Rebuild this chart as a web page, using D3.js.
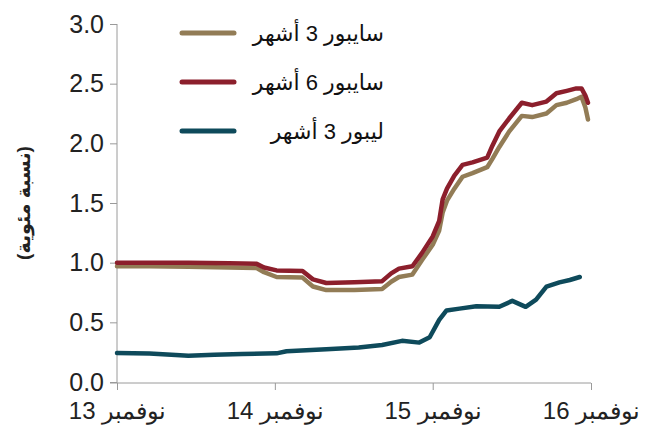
<!DOCTYPE html>
<html>
<head>
<meta charset="utf-8">
<script src="https://cdn.jsdelivr.net/npm/d3@7"></script>
<style>
  html, body { margin: 0; padding: 0; background: #fff; }
  svg { display: block; font-family: "Liberation Sans", Arial, "DejaVu Sans", sans-serif; }
</style>
</head>
<body>
<svg id="chart" width="659" height="434"></svg>
<script>
// Interbank rates, percent
const saiborDates = [
  "2013-11-01","2014-01-15","2014-04-15","2014-07-18","2014-09-20","2014-10-07",
  "2014-11-05","2015-01-04","2015-01-28","2015-02-28","2015-05-04","2015-07-07",
  "2015-07-28","2015-08-15","2015-09-15","2015-10-07","2015-11-01","2015-11-16",
  "2015-11-24","2015-12-04","2015-12-21","2016-01-09","2016-02-01","2016-03-06",
  "2016-03-18","2016-04-03","2016-04-26","2016-05-25","2016-06-18","2016-07-21",
  "2016-08-13","2016-09-06","2016-09-28","2016-10-10","2016-10-19","2016-10-25"
];
const saibor3m = [
  0.97, 0.97, 0.965, 0.96, 0.955, 0.92,
  0.88, 0.875, 0.80, 0.77, 0.77, 0.78,
  0.84, 0.88, 0.90, 1.02, 1.15, 1.27,
  1.42, 1.52, 1.62, 1.72, 1.75, 1.80,
  1.87, 1.97, 2.10, 2.23, 2.22, 2.25,
  2.32, 2.34, 2.37, 2.39, 2.30, 2.20
];
const saibor6m = [
  1.00, 1.00, 1.00, 0.995, 0.99, 0.96,
  0.935, 0.93, 0.86, 0.83, 0.835, 0.845,
  0.91, 0.95, 0.97, 1.08, 1.22, 1.35,
  1.53, 1.62, 1.73, 1.82, 1.84, 1.88,
  1.98, 2.10, 2.21, 2.34, 2.32, 2.35,
  2.42, 2.44, 2.46, 2.46, 2.40, 2.34
];
const liborDates = [
  "2013-11-01","2014-01-15","2014-03-17","2014-04-15","2014-06-14","2014-08-17",
  "2014-11-05","2014-11-28","2015-02-28","2015-05-14","2015-07-07","2015-08-22",
  "2015-10-01","2015-10-25","2015-11-16","2015-12-03","2016-01-02","2016-02-10",
  "2016-04-03","2016-05-03","2016-06-03","2016-06-27","2016-07-21","2016-08-20",
  "2016-09-13","2016-10-06"
];
const libor3m = [
  0.243, 0.238, 0.226, 0.22, 0.228, 0.235,
  0.24, 0.258, 0.275, 0.29, 0.31, 0.345,
  0.33, 0.375, 0.52, 0.60, 0.615, 0.635,
  0.63, 0.68, 0.63, 0.69, 0.80, 0.835,
  0.855, 0.88
];
const seriesNames = ["سايبور 3 أشهر", "سايبور 6 أشهر", "ليبور 3 أشهر"];
const seriesColors = ["#927c56", "#8c1f2c", "#0e4a5b"];
const xTickDates = ["2013-11-01","2014-11-01","2015-11-01","2016-11-01"];
const xTickLabels = ["نوفمبر 13", "نوفمبر 14", "نوفمبر 15", "نوفمبر 16"];
const yTicks = [0, 0.5, 1, 1.5, 2, 2.5, 3];
const yTitle = "(نسبة مئوية)";

const parse = d3.timeParse("%Y-%m-%d");
const series = [
  { name: seriesNames[0], color: seriesColors[0], pts: saiborDates.map((d, i) => ({ date: parse(d), v: saibor3m[i] })) },
  { name: seriesNames[1], color: seriesColors[1], pts: saiborDates.map((d, i) => ({ date: parse(d), v: saibor6m[i] })) },
  { name: seriesNames[2], color: seriesColors[2], pts: liborDates.map((d, i) => ({ date: parse(d), v: libor3m[i] })) }
];

const svg = d3.select("#chart");
const plotLeft = 117, plotRight = 591, plotTop = 24, plotBottom = 382;

const x = d3.scaleTime()
  .domain([parse(xTickDates[0]), parse(xTickDates[3])])
  .range([plotLeft, plotRight]);
const y = d3.scaleLinear().domain([0, 3]).range([plotBottom, plotTop]);

const axisColor = "#9a9a9a";

// y axis
const yAxis = svg.append("g")
  .attr("transform", `translate(${plotLeft},0)`)
  .call(d3.axisLeft(y).tickValues(yTicks).tickFormat(d3.format(".1f")).tickSize(7).tickPadding(6));
yAxis.select(".domain").attr("stroke", axisColor).attr("d", `M0,${plotTop}V${plotBottom + 1}`);
yAxis.selectAll(".tick line").attr("stroke", axisColor);
yAxis.selectAll(".tick text").attr("fill", "#222").style("font-size", "25px")
  .style("font-family", "'Liberation Sans', Arial, sans-serif");

// x axis
const xAxis = svg.append("g")
  .attr("transform", `translate(0,${plotBottom + 1})`)
  .call(d3.axisBottom(x).tickValues(xTickDates.map(parse))
    .tickFormat((d, i) => xTickLabels[i]).tickSize(7).tickPadding(6));
xAxis.select(".domain").attr("stroke", axisColor).attr("d", `M${plotLeft - 7},0H${plotRight}`);
xAxis.selectAll(".tick line").attr("stroke", axisColor);
xAxis.selectAll(".tick text").attr("fill", "#222").style("font-size", "24px")
  .attr("dy", "0.95em");

// y title
svg.append("text")
  .attr("transform", "translate(30,203) rotate(-90)")
  .attr("text-anchor", "middle")
  .attr("fill", "#222")
  .style("font-size", "19px")
  .style("font-weight", "bold")
  .text(yTitle);

// lines
const line = d3.line().x(d => x(d.date)).y(d => y(d.v));
svg.append("g").selectAll("path")
  .data(series)
  .join("path")
  .attr("d", d => line(d.pts))
  .attr("fill", "none")
  .attr("stroke", d => d.color)
  .attr("stroke-width", 4.5)
  .attr("stroke-linejoin", "round")
  .attr("stroke-linecap", "round");

// legend
const legend = svg.append("g");
series.forEach((s, i) => {
  const ly = 33 + i * 49;
  legend.append("line")
    .attr("x1", 182).attr("x2", 234).attr("y1", ly).attr("y2", ly)
    .attr("stroke", s.color).attr("stroke-width", 5).attr("stroke-linecap", "round");
  legend.append("text")
    .attr("x", 384).attr("y", ly)
    .attr("dy", "0.35em")
    .attr("text-anchor", "end")
    .attr("fill", "#111")
    .style("font-size", "22px")
    .text(s.name);
});
</script>
</body>
</html>
